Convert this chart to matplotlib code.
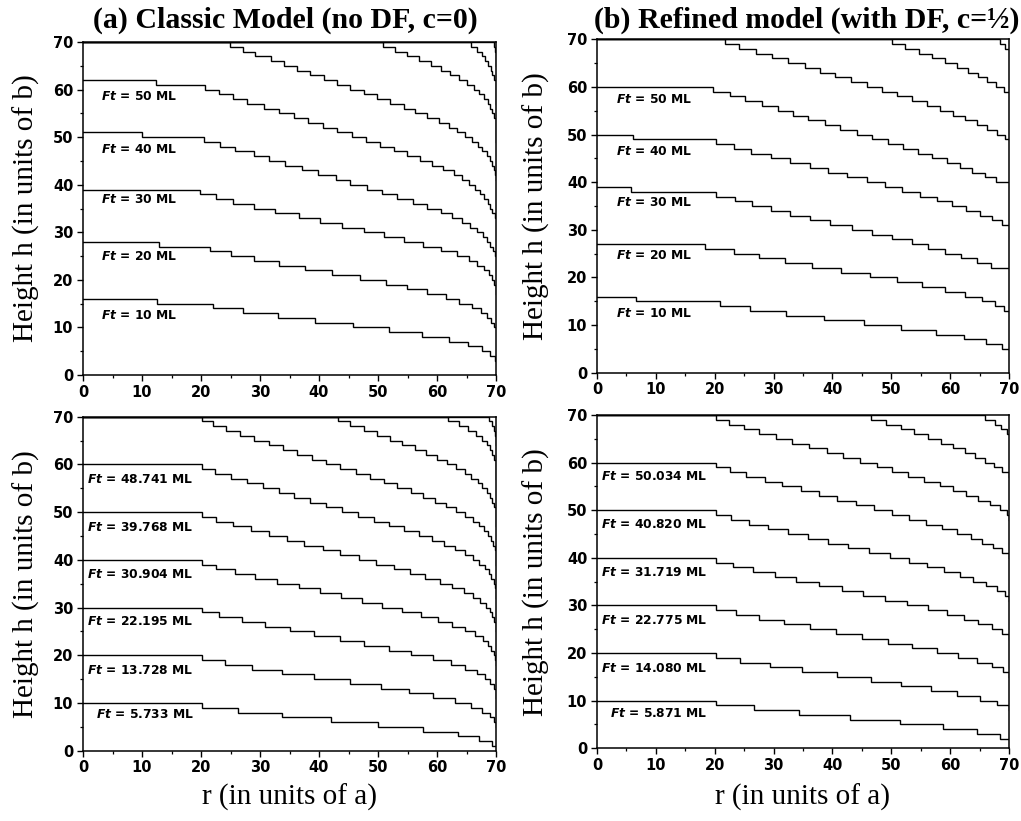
"""
Step profiles h(r) of a growing island: classic vs refined model
"""

import numpy as np
import matplotlib
matplotlib.use("Agg")
import matplotlib.pyplot as plt
from matplotlib.ticker import MultipleLocator

plt.rcParams['mathtext.fontset'] = 'custom'
plt.rcParams['mathtext.it'] = 'DejaVu Sans:italic:bold'
plt.rcParams['mathtext.rm'] = 'DejaVu Sans:bold'

R_MAX = 70

# ---- (a) classic model, top: Ft = 10..50 ML (+ unlabeled upper profiles)
a_top_start = [16, 28, 39, 51, 62, 70, 70, 70, 70]
a_top_end = [3, 10, 17, 25, 33, 41, 49, 57, 65]
a_top_edges = [
    [12.6, 22.1, 27.1, 33.0, 39.3, 45.8, 51.8, 57.5, 62.0, 65.2, 67.6, 68.9, 69.8],
    [12.9, 21.6, 25.1, 28.9, 33.3, 37.7, 42.2, 47.0, 51.3, 54.9, 58.3, 61.5, 63.8,
     65.9, 67.5, 68.5, 69.1, 69.6],
    [19.8, 22.6, 25.5, 28.9, 32.6, 36.6, 40.2, 43.9, 47.6, 51.0, 54.4, 57.7, 60.6,
     63.4, 65.4, 66.8, 67.9, 68.8, 69.3, 69.7],
    [10.0, 20.5, 23.3, 25.8, 28.9, 31.5, 34.3, 37.1, 39.9, 42.8, 45.3, 48.1, 50.7,
     53.2, 56.0, 58.3, 60.6, 62.5, 64.2, 65.6, 66.8, 67.8, 68.5, 69.0, 69.5, 69.8],
    [12.3, 20.6, 23.0, 25.5, 27.8, 30.6, 33.2, 35.7, 38.2, 40.7, 43.1, 45.6, 47.9,
     50.4, 52.7, 54.9, 57.1, 59.2, 61.1, 62.8, 64.2, 65.4, 66.5, 67.3, 68.0, 68.6,
     69.0, 69.4, 69.8],
    [24.9, 27.1, 29.2, 31.8, 34.0, 36.3, 38.5, 40.8, 43.1, 45.3, 47.6, 49.8, 52.1,
     54.4, 56.3, 58.3, 60.3, 62.0, 63.4, 64.8, 65.9, 66.9, 67.7, 68.4, 68.9, 69.3,
     69.6, 69.8],
    [50.8, 52.9, 54.9, 56.9, 58.9, 60.6, 62.2, 63.7, 65.1, 66.2, 67.2, 68.0, 68.6,
     69.0, 69.4, 69.7],
    [65.8, 66.8, 67.6, 68.2, 68.7, 69.1, 69.4, 69.6],
    [69.6, 69.8],
]
a_top_labels = ['50', '40', '30', '20', '10']

# ---- (b) refined model, top
b_top_start = [16, 27, 39, 50, 60, 70, 70, 70]
b_top_end = [5, 13, 22, 31, 40, 49, 59, 68]
b_top_edges = [
    [6.7, 20.9, 26.0, 32.1, 38.5, 45.3, 51.6, 57.6, 62.4, 66.1, 68.8],
    [18.3, 23.2, 27.5, 32.0, 36.6, 41.5, 46.4, 50.9, 55.3, 59.1, 62.6, 65.4, 67.6, 69.2],
    [5.8, 20.3, 23.4, 26.4, 29.6, 32.8, 36.2, 39.6, 43.3, 46.7, 50.1, 53.5, 56.3,
     59.2, 61.9, 64.5, 67.0],
    [6.1, 20.3, 23.2, 26.2, 29.6, 32.8, 36.2, 39.3, 42.5, 45.8, 48.9, 51.9, 54.9,
     57.7, 60.3, 62.7, 65.0, 67.1, 68.8],
    [19.7, 22.6, 25.2, 28.1, 30.8, 33.3, 35.9, 38.7, 41.3, 44.1, 46.7, 49.5, 52.0,
     54.6, 57.0, 59.4, 61.7, 63.8, 65.9, 67.8],
    [21.7, 24.2, 27.0, 29.7, 32.4, 35.3, 37.9, 40.4, 43.1, 45.8, 48.4, 50.9, 53.5,
     56.0, 58.3, 60.5, 62.5, 64.5, 66.2, 67.9, 69.3],
    [50.1, 52.3, 54.7, 57.0, 59.1, 61.1, 63.1, 64.8, 66.3, 67.8, 69.2],
    [68.4, 69.4],
]
b_top_labels = ['50', '40', '30', '20', '10']

# ---- (a) classic model, bottom: flat 20a top terrace
a_bot_start = [10, 20, 30, 40, 50, 60, 70, 70, 70, 70]
a_bot_end = [1, 5, 11, 18, 25, 32, 39, 47, 57, 64]
a_bot_edges = [
    [20.1, 26.2, 33.7, 42.0, 50.0, 57.6, 63.6, 67.2, 69.3],
    [20.1, 24.1, 28.7, 33.8, 39.2, 45.2, 50.5, 55.2, 59.3, 63.0, 65.8, 67.7, 68.9, 69.6],
    [20.1, 23.1, 26.9, 30.8, 35.0, 39.2, 43.5, 47.7, 51.8, 55.6, 59.3, 62.4, 64.8,
     66.8, 68.2, 69.0, 69.6],
    [20.1, 22.6, 25.8, 29.1, 32.8, 36.6, 40.2, 43.7, 47.3, 50.7, 54.1, 57.3, 60.1,
     62.5, 64.8, 66.5, 67.8, 68.6, 69.2, 69.6, 69.9],
    [20.1, 22.6, 25.5, 28.5, 31.5, 34.6, 37.5, 40.7, 43.6, 46.7, 49.7, 52.7, 55.4,
     58.0, 60.5, 62.5, 64.5, 66.1, 67.3, 68.3, 68.9, 69.4, 69.7],
    [20.1, 22.4, 25.1, 27.8, 30.5, 33.2, 35.8, 38.5, 41.2, 43.9, 46.6, 49.3, 51.8,
     54.4, 56.9, 59.2, 61.2, 63.1, 64.7, 66.1, 67.2, 68.1, 68.8, 69.2, 69.6, 69.8],
    [20.2, 22.1, 24.3, 26.6, 28.9, 31.5, 33.9, 36.3, 38.8, 41.2, 43.6, 46.2, 48.6,
     51.0, 53.3, 55.6, 57.7, 59.7, 61.6, 63.3, 64.8, 66.1, 67.1, 68.0, 68.6, 69.1,
     69.5, 69.8],
    [43.2, 45.3, 47.6, 49.8, 52.1, 54.1, 56.2, 58.2, 60.0, 61.7, 63.3, 64.7, 65.8,
     66.9, 67.7, 68.5, 69.0, 69.4, 69.7],
    [61.9, 63.7, 65.2, 66.6, 67.6, 68.4, 68.9, 69.3, 69.6],
    [68.8, 69.3, 69.6, 69.8],
]
a_bot_labels = ['48.741', '39.768', '30.904', '22.195', '13.728', '5.733']

# ---- (b) refined model, bottom
b_bot_start = [10, 20, 30, 40, 50, 60, 70, 70, 70]
b_bot_end = [2, 8, 15, 23, 31, 40, 48, 57, 66]
b_bot_edges = [
    [20.2, 26.6, 34.4, 43.0, 51.5, 58.8, 64.6, 68.4],
    [20.2, 24.3, 29.4, 34.8, 40.7, 46.5, 51.6, 56.7, 61.2, 65.0, 67.9],
    [20.2, 23.6, 27.6, 31.7, 36.2, 40.6, 45.1, 49.5, 53.6, 57.7, 61.4, 64.5, 67.1, 69.0],
    [20.2, 23.1, 26.5, 30.2, 33.9, 37.8, 41.6, 45.2, 48.9, 52.6, 56.3, 59.5, 62.4,
     64.8, 67.1, 68.9],
    [20.2, 22.7, 25.9, 29.1, 32.5, 35.8, 39.3, 42.7, 46.3, 49.8, 53.1, 56.1, 59.0,
     61.6, 63.9, 66.1, 67.9, 69.3],
    [20.2, 22.6, 25.4, 28.5, 31.5, 34.6, 37.8, 40.8, 44.0, 47.0, 50.2, 53.1, 55.9,
     58.7, 61.2, 63.5, 65.5, 67.3, 68.9],
    [20.2, 22.4, 24.9, 27.6, 30.4, 33.2, 36.1, 39.0, 41.8, 44.7, 47.5, 50.2, 52.9,
     55.6, 58.2, 60.5, 62.7, 64.8, 66.7, 68.4, 69.6],
    [46.5, 49.1, 51.6, 53.9, 56.2, 58.4, 60.5, 62.5, 64.3, 66.0, 67.5, 68.9],
    [66.0, 67.6, 68.7, 69.6],
]
b_bot_labels = ['50.034', '40.820', '31.719', '22.775', '14.080', '5.871']

titles = ['(a) Classic Model (no DF, c=0)', '(b) Refined model (with DF, c=\u00bd)']


def profile(h0, edges, h_end):
    e = np.asarray(edges, dtype=float)
    r = np.concatenate([[0], np.repeat(e, 2), [R_MAX, R_MAX]])
    h = h0 - np.arange(len(e) + 1)
    hh = np.concatenate([np.repeat(h, 2), [h_end]])
    return r, hh


def setup_axes(ax, ylab_x, xlab_y=None):
    ax.set_xlim(0, R_MAX)
    ax.set_ylim(0, 70)
    ax.xaxis.set_major_locator(MultipleLocator(10))
    ax.xaxis.set_minor_locator(MultipleLocator(5))
    ax.yaxis.set_major_locator(MultipleLocator(10))
    ax.yaxis.set_minor_locator(MultipleLocator(5))
    ax.tick_params(which='major', direction='out', length=4.5, width=1.0,
                   labelsize=10.5, pad=2.5)
    ax.tick_params(which='minor', direction='out', length=2.5, width=0.9)
    for lab in ax.get_xticklabels() + ax.get_yticklabels():
        lab.set_fontweight('bold')
        lab.set_family('DejaVu Sans')
    for s in ax.spines.values():
        s.set_linewidth(1.1)
    yl = ax.set_ylabel('Height h (in units of b)', family='Liberation Serif',
                       fontsize=21)
    yl.set_va('center')
    ax.yaxis.set_label_coords(ylab_x, 0.5)
    if xlab_y is not None:
        xl = ax.set_xlabel('r (in units of a)', family='Liberation Serif',
                           fontsize=21)
        xl.set_va('center')
        ax.xaxis.set_label_coords(0.5, xlab_y)


def draw(ax, starts, edges, ends):
    for h0, e, h1 in zip(starts, edges, ends):
        r, h = profile(h0, e, h1)
        ax.plot(r, h, color='black', lw=1.0, solid_joinstyle='miter')


def main():
    fig = plt.figure(figsize=(10.21, 8.21), dpi=100)
    ax_at = fig.add_axes([0.0813, 0.5432, 0.4045, 0.4056])
    ax_bt = fig.add_axes([0.5847, 0.5460, 0.4035, 0.4061])
    ax_ab = fig.add_axes([0.0813, 0.0856, 0.4045, 0.4069])
    ax_bb = fig.add_axes([0.5847, 0.0886, 0.4035, 0.4059])

    draw(ax_at, a_top_start, a_top_edges, a_top_end)
    draw(ax_bt, b_top_start, b_top_edges, b_top_end)
    draw(ax_ab, a_bot_start, a_bot_edges, a_bot_end)
    draw(ax_bb, b_bot_start, b_bot_edges, b_bot_end)

    setup_axes(ax_at, -0.136)
    setup_axes(ax_bt, -0.146)
    setup_axes(ax_ab, -0.136, -0.139)
    setup_axes(ax_bb, -0.146, -0.146)

    lab_kw = dict(fontsize=8.8, fontweight='bold', family='DejaVu Sans', va='center')
    # label heights follow the labelled profiles
    for ax, labs, ys, x in [(ax_at, a_top_labels, [58.5, 47.5, 36.8, 24.9, 12.6], 3.0),
                            (ax_bt, b_top_labels, [57.3, 46.4, 35.8, 24.7, 12.5], 3.2)]:
        for lab, y in zip(labs, ys):
            ax.text(x, y, r'$\mathit{Ft}$ = ' + lab + ' ML', ha='left', **lab_kw)
    for ax, labs, ys in [(ax_ab, a_bot_labels, [56.9, 46.8, 37.0, 27.0, 16.9, 7.5]),
                         (ax_bb, b_bot_labels, [57.0, 46.9, 36.9, 26.9, 16.8, 7.4])]:
        for lab, y in zip(labs, ys):
            ax.text(18.7, y, r'$\mathit{Ft}$ = ' + lab + ' ML', ha='right', **lab_kw)

    title_kw = dict(family='Liberation Serif', fontweight='bold', fontsize=21.5,
                    ha='center', va='center')
    fig.text(285 / 1021, 1 - 20 / 821, titles[0], **title_kw)
    fig.text(807 / 1021, 1 - 20 / 821, titles[1], **title_kw)

    fig.savefig('out.png', dpi=100)


if __name__ == '__main__':
    main()
